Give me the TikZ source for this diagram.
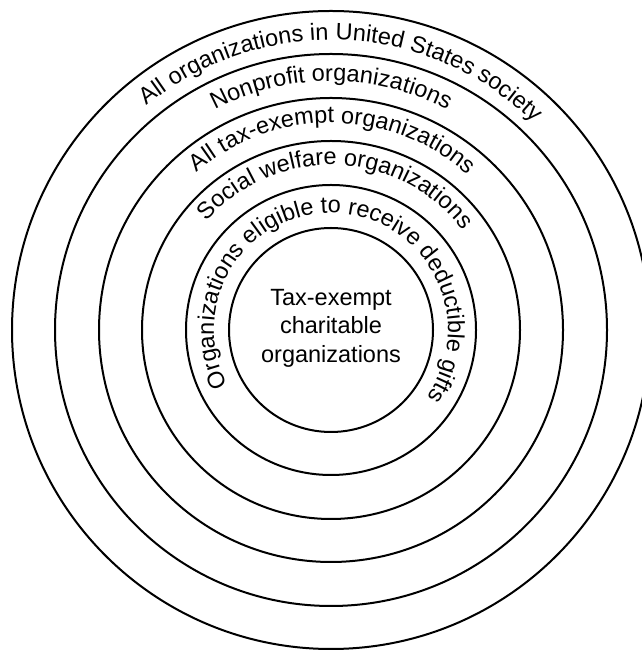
\documentclass[tikz,border=0pt]{standalone}
\usepackage{fontspec}
\setmainfont{Liberation Sans}
\usetikzlibrary{decorations.text,calc}
\newcommand\rlabfont{\fontsize{23.5}{28.5}\selectfont}
\newcommand\ringtext[4]{%
  \path[decorate, decoration={text along path, text align=center, text={|\rlabfont|#4}}]
    ($(C)+({#2+#3}:#1)$) arc[start angle={#2+#3}, end angle={#2-#3}, radius=#1];}
\begin{document}
\begin{tikzpicture}[x=1pt,y=1pt,
  ring/.style={circle, draw=black, line width=2pt, inner sep=0pt, outer sep=0pt}]
\useasboundingbox (0,0) rectangle (641,650);
\coordinate (C) at (331,320);
\foreach \r/\n in {102/r1,145/r2,189/r3,232/r4,276/r5,319/r6}
  \node[ring, minimum size=2*\r pt] (\n) at (C) {};
\ringtext{290}{87.5}{60}{All organizations in United States society}
\ringtext{249}{90}{45}{Nonprofit organizations}
\ringtext{207}{89.5}{60}{All tax-exempt organizations}
\ringtext{165}{88}{70}{Social welfare organizations}
\ringtext{117}{86.5}{140}{Organizations eligible to receive deductible gifts}
\node[align=center, font=\rlabfont, inner sep=0pt] (ctr) at (331,322) {Tax-exempt\\charitable\\organizations};
\end{tikzpicture}
\end{document}
